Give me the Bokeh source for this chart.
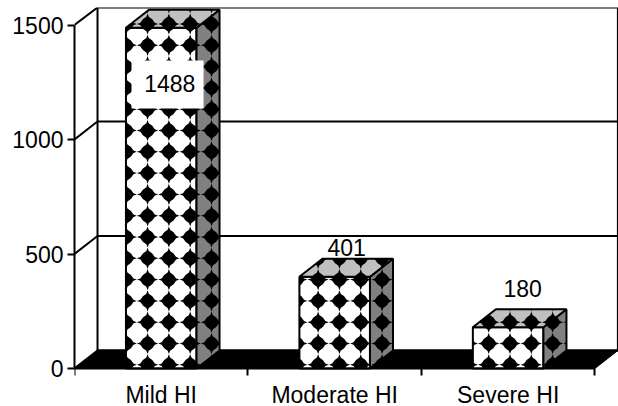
from bokeh.plotting import figure
from bokeh.models import Range1d, FixedTicker
from bokeh.embed import file_html
from bokeh.resources import INLINE
from bokeh.core.properties import value

categories = ["Mild HI", "Moderate HI", "Severe HI"]
cases = [1488, 401, 180]
y_ticks = [0, 500, 1000, 1500]

PX_X = 173.3   # pixels per category
PX_Y = 0.229   # pixels per case
DX_PX, DY_PX = 23.0, 18.0
DX = DX_PX / PX_X
DY = DY_PX / PX_Y
BAR_W = 70.5 / PX_X
LEFT, RIGHT, TOP_PX, BOTTOM = 74, 617.5, 7, 368
H = 406
FONT = "Liberation Sans"
FS = "23px"
TOP = (BOTTOM - TOP_PX) / PX_Y

# the frame runs to the foot of the page so that the category labels of the
# axis fixed at y=0 stay inside it
p = figure(width=618, height=H, output_backend="svg", toolbar_location=None,
           x_range=Range1d(0, (RIGHT - LEFT) / PX_X), y_range=Range1d(-(H - BOTTOM) / PX_Y, TOP),
           min_border_left=LEFT, min_border_right=0, min_border_top=TOP_PX, min_border_bottom=0)
p.grid.visible = False
p.outline_line_color = None
p.background_fill_color = "white"

ya = p.yaxis[0]
ya.ticker = FixedTicker(ticks=y_ticks)
ya.bounds = (0, 1500)
ya.axis_line_width = 2
ya.axis_line_color = "black"
ya.major_tick_line_color = "black"
ya.major_tick_line_width = 2
ya.major_tick_out = 7
ya.major_tick_in = 0
ya.minor_tick_line_color = None
ya.major_label_text_font = FONT
ya.major_label_text_font_size = FS
ya.major_label_text_color = "black"
ya.major_label_standoff = 4

xa = p.xaxis[0]
xa.fixed_location = 0
xa.ticker = FixedTicker(ticks=[0.5, 1.5, 2.5], minor_ticks=[0, 1, 2, 3])
xa.major_label_overrides = {i + 0.5: c for i, c in enumerate(categories)}
xa.bounds = (0, 3)
xa.axis_line_width = 2
xa.major_tick_line_color = None
xa.minor_tick_line_color = "black"
xa.minor_tick_line_width = 2
xa.minor_tick_out = 7
xa.minor_tick_in = 0
xa.major_label_text_font = FONT
xa.major_label_text_font_size = FS
xa.major_label_text_color = "black"
xa.major_label_standoff = 6

# walls and gridlines
for t in y_ticks[:3]:
    p.line([0, DX], [t, t + DY], line_color="black", line_width=2)
    p.line([DX, 3 + DX], [t + DY, t + DY], line_color="black", line_width=2)
p.line([0, DX], [1500, TOP], line_color="black", line_width=2)
p.line([DX, 3 + DX, 3 + DX, DX, DX], [TOP, TOP, DY, DY, TOP], line_color="black", line_width=2)

# floor
p.patch([0, DX, 3 + DX, 3], [0, DY, DY, 0], fill_color="black", line_color="black", line_width=1)


def clip_halfplane(poly, a, b):
    """Keep the part of poly left of the directed edge a->b."""
    def side(q):
        return (b[0] - a[0]) * (q[1] - a[1]) - (b[1] - a[1]) * (q[0] - a[0])
    out = []
    for i in range(len(poly)):
        c, d = poly[i], poly[(i + 1) % len(poly)]
        sc, sd = side(c), side(d)
        if sc >= 0:
            out.append(c)
        if (sc >= 0) != (sd >= 0):
            t = sc / (sc - sd)
            out.append((c[0] + t * (d[0] - c[0]), c[1] + t * (d[1] - c[1])))
    return out


# one lattice of diamonds shared by all faces, as in a pattern fill
PERIOD, LAT_X, LAT_Y = 21.3, 73.0, 25.0
TIP, CORNER, NEAR, FAR = 10.6, 4.7, 1.2, 7.2
DIAMOND = [(TIP, 0), (FAR, NEAR), (CORNER, CORNER), (NEAR, FAR), (0, TIP), (-NEAR, FAR),
           (-CORNER, CORNER), (-FAR, NEAR), (-TIP, 0), (-FAR, -NEAR), (-CORNER, -CORNER),
           (-NEAR, -FAR), (0, -TIP), (NEAR, -FAR), (CORNER, -CORNER), (FAR, -NEAR)]


def draw_face(face, color):
    """face: counter-clockwise corners in data units."""
    px = [(x * PX_X, y * PX_Y) for x, y in face]
    x_lo, x_hi = min(q[0] for q in px), max(q[0] for q in px)
    y_lo, y_hi = min(q[1] for q in px), max(q[1] for q in px)
    p.patch([q[0] for q in face], [q[1] for q in face], fill_color=color, line_color=None)
    xs, ys = [], []
    k0 = int((x_lo - LAT_X) // PERIOD) - 1
    k1 = int((x_hi - LAT_X) // PERIOD) + 2
    m0 = int((y_lo - LAT_Y) // PERIOD) - 1
    m1 = int((y_hi - LAT_Y) // PERIOD) + 2
    for k in range(k0, k1 + 1):
        for m in range(m0, m1 + 1):
            xc, yc = LAT_X + k * PERIOD, LAT_Y + m * PERIOD
            poly = [(xc + a, yc + b) for a, b in DIAMOND]
            for i in range(len(px)):
                if poly:
                    poly = clip_halfplane(poly, px[i], px[(i + 1) % len(px)])
            if len(poly) >= 3:
                xs.append([q[0] / PX_X for q in poly])
                ys.append([q[1] / PX_Y for q in poly])
    if xs:
        p.patches(xs, ys, fill_color="black", line_color=None)
    p.patch([q[0] for q in face], [q[1] for q in face], fill_color=None,
            line_color="black", line_width=2)


for i, v in enumerate(cases):
    x0 = i + 0.5 - BAR_W / 2
    x1 = x0 + BAR_W
    draw_face([(x0, 0), (x1, 0), (x1, v), (x0, v)], "white")
    draw_face([(x1, 0), (x1 + DX, DY), (x1 + DX, v + DY), (x1, v)], "#808080")
    draw_face([(x0, v), (x1, v), (x1 + DX, v + DY), (x0 + DX, v + DY)], "#c0c0c0")

# value labels; the first sits inside its bar on a white box
bar_centre = 0.5
p.quad(left=[bar_centre + (132 - 161.7) / PX_X], right=[bar_centre + (204 - 161.7) / PX_X],
       bottom=[(BOTTOM - 108) / PX_Y], top=[(BOTTOM - 60) / PX_Y], fill_color="white", line_color=None)
p.text([i + 0.5 for i in range(3)], cases, text=[str(v) for v in cases],
       x_offset=[8.5, 12, 14.5], y_offset=[56, -29, -39],
       text_align="center", text_baseline="middle",
       text_font=value(FONT), text_font_size=FS, text_color="black")

open("out.html", "w").write(file_html(p, INLINE))
